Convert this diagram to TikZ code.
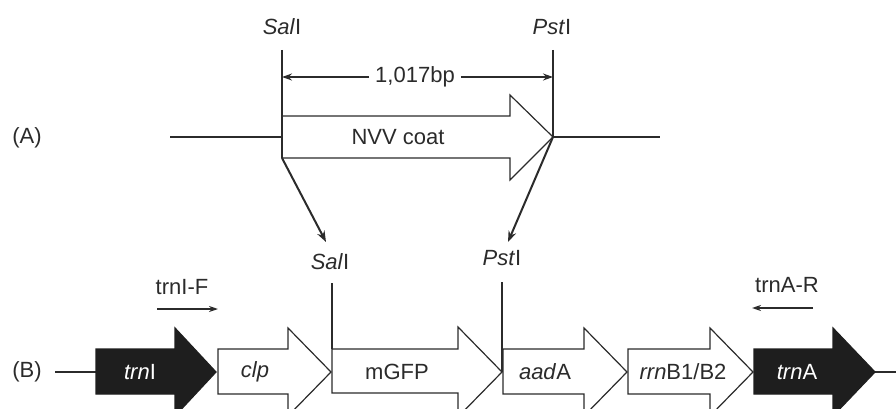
\documentclass[tikz,border=0pt]{standalone}
\usepackage{fontspec}
\setmainfont{Liberation Sans}
\usetikzlibrary{arrows.meta}
\definecolor{ink}{HTML}{2B2B2B}
\definecolor{gfill}{HTML}{1E1E1E}
\tikzset{
  lbl/.style={inner sep=0pt, font=\fontsize{22}{26}\selectfont, text=ink},
  outl/.style={draw=ink, line width=1.2pt, fill=white, line join=miter},
  darkgene/.style={draw=gfill, line width=1.2pt, fill=gfill},
  gtext/.style={lbl},
  wtext/.style={lbl, text=white},
  site/.style={draw=ink, line width=1.8pt},
  baseln/.style={draw=ink, line width=1.5pt},
  conn/.style={draw=ink, line width=2pt, -{Stealth[length=11pt,width=8pt]}},
  dim/.style={draw=ink, line width=2pt, -{Stealth[length=10pt,width=7pt]}},
  primer/.style={draw=ink, line width=1.8pt, -{Stealth[length=9pt,width=6pt]}}
}
\begin{document}
\begin{tikzpicture}[x=1pt,y=-1pt]
\useasboundingbox (0,0) rectangle (896,409);
\clip (0,0) rectangle (896,409);

% ---------- (A) ----------
\node[lbl] (labA) at (27,138) {(A)};
\coordinate (aL) at (170,137);
\coordinate (aR) at (660,137);
\draw[baseln] (aL) -- (282,137);
\draw[baseln] (553,137) -- (aR);
% NVV coat arrow
\draw[outl] (282,116) -- (510,116) -- (510,95) -- (553,137) -- (510,180) -- (510,158) -- (282,158) -- cycle;
\node[gtext] (nvv) at (398,137) {NVV coat};
% sites
\node[lbl] (salA) at (282,27) {\textit{Sal}I};
\node[lbl] (pstA) at (552,27) {\textit{Pst}I};
\coordinate (salAt) at (282,50);
\coordinate (salAb) at (282,158);
\coordinate (pstAt) at (553,50);
\coordinate (pstAb) at (553,137);
\draw[site] (salAt) -- (salAb);
\draw[site] (pstAt) -- (pstAb);
% dimension
\node[lbl, fill=white, inner xsep=6pt] (dimtxt) at (415,77) {1,017bp};
\coordinate (dimL) at (282,77);
\coordinate (dimR) at (553,77);
\draw[dim] (dimtxt.west) -- (dimL);
\draw[dim] (dimtxt.east) -- (dimR);

% ---------- (B) ----------
\node[lbl] (labB) at (27,372) {(B)};
\coordinate (bL) at (55,372);
\coordinate (bR) at (896,372);
\draw[baseln] (bL) -- (96,372);
\draw[baseln] (875,372) -- (bR);

% trnI (dark)
\draw[darkgene] (96,349) -- (175,349) -- (175,328) -- (216,372) -- (175,416) -- (175,394) -- (96,394) -- cycle;
\node[wtext] (trnI) at (140,372) {\textit{trn}I};
% clp
\draw[outl] (218,349) -- (288,349) -- (288,328) -- (331,372) -- (288,416) -- (288,394) -- (218,394) -- cycle;
\node[gtext] (clp) at (255,372) {\textit{clp}};
% mGFP
\draw[outl] (332,349) -- (458,349) -- (458,327) -- (502,372) -- (458,417) -- (458,393) -- (332,393) -- cycle;
\node[gtext] (mgfp) at (397,372) {mGFP};
% aadA
\draw[outl] (503,349) -- (584,349) -- (584,328) -- (627,372) -- (584,416) -- (584,394) -- (503,394) -- cycle;
\node[gtext] (aadA) at (545,372) {\textit{aad}A};
% rrnB1/B2
\draw[outl] (628,349) -- (710,349) -- (710,328) -- (753,372) -- (710,416) -- (710,394) -- (628,394) -- cycle;
\node[gtext] (rrn) at (683,372) {\textit{rrn}B1/B2};
% trnA (dark)
\draw[darkgene] (754,349) -- (833,349) -- (833,328) -- (875,372) -- (833,416) -- (833,394) -- (754,394) -- cycle;
\node[wtext] (trnA) at (797,372) {\textit{trn}A};

% sites in B
\node[lbl] (salB) at (330,262) {\textit{Sal}I};
\node[lbl] (pstB) at (502,258) {\textit{Pst}I};
\coordinate (salBt) at (332,283);
\coordinate (salBb) at (332,349);
\coordinate (pstBt) at (502,282);
\coordinate (pstBb) at (502,372);
\draw[site] (salBt) -- (salBb);
\draw[site] (pstBt) -- (pstBb);

% connectors from A to B
\coordinate (salArr) at (326,242);
\coordinate (pstArr) at (508,242);
\draw[conn] (salAb) -- (salArr);
\draw[conn] (pstAb) -- (pstArr);

% primers
\node[lbl] (trnIF) at (182,287) {trnI-F};
\coordinate (pFs) at (157,309);
\coordinate (pFe) at (218,309);
\draw[primer] (pFs) -- (pFe);
\node[lbl] (trnAR) at (787,285) {trnA-R};
\coordinate (pRs) at (813,308);
\coordinate (pRe) at (752,308);
\draw[primer] (pRs) -- (pRe);
\end{tikzpicture}
\end{document}
